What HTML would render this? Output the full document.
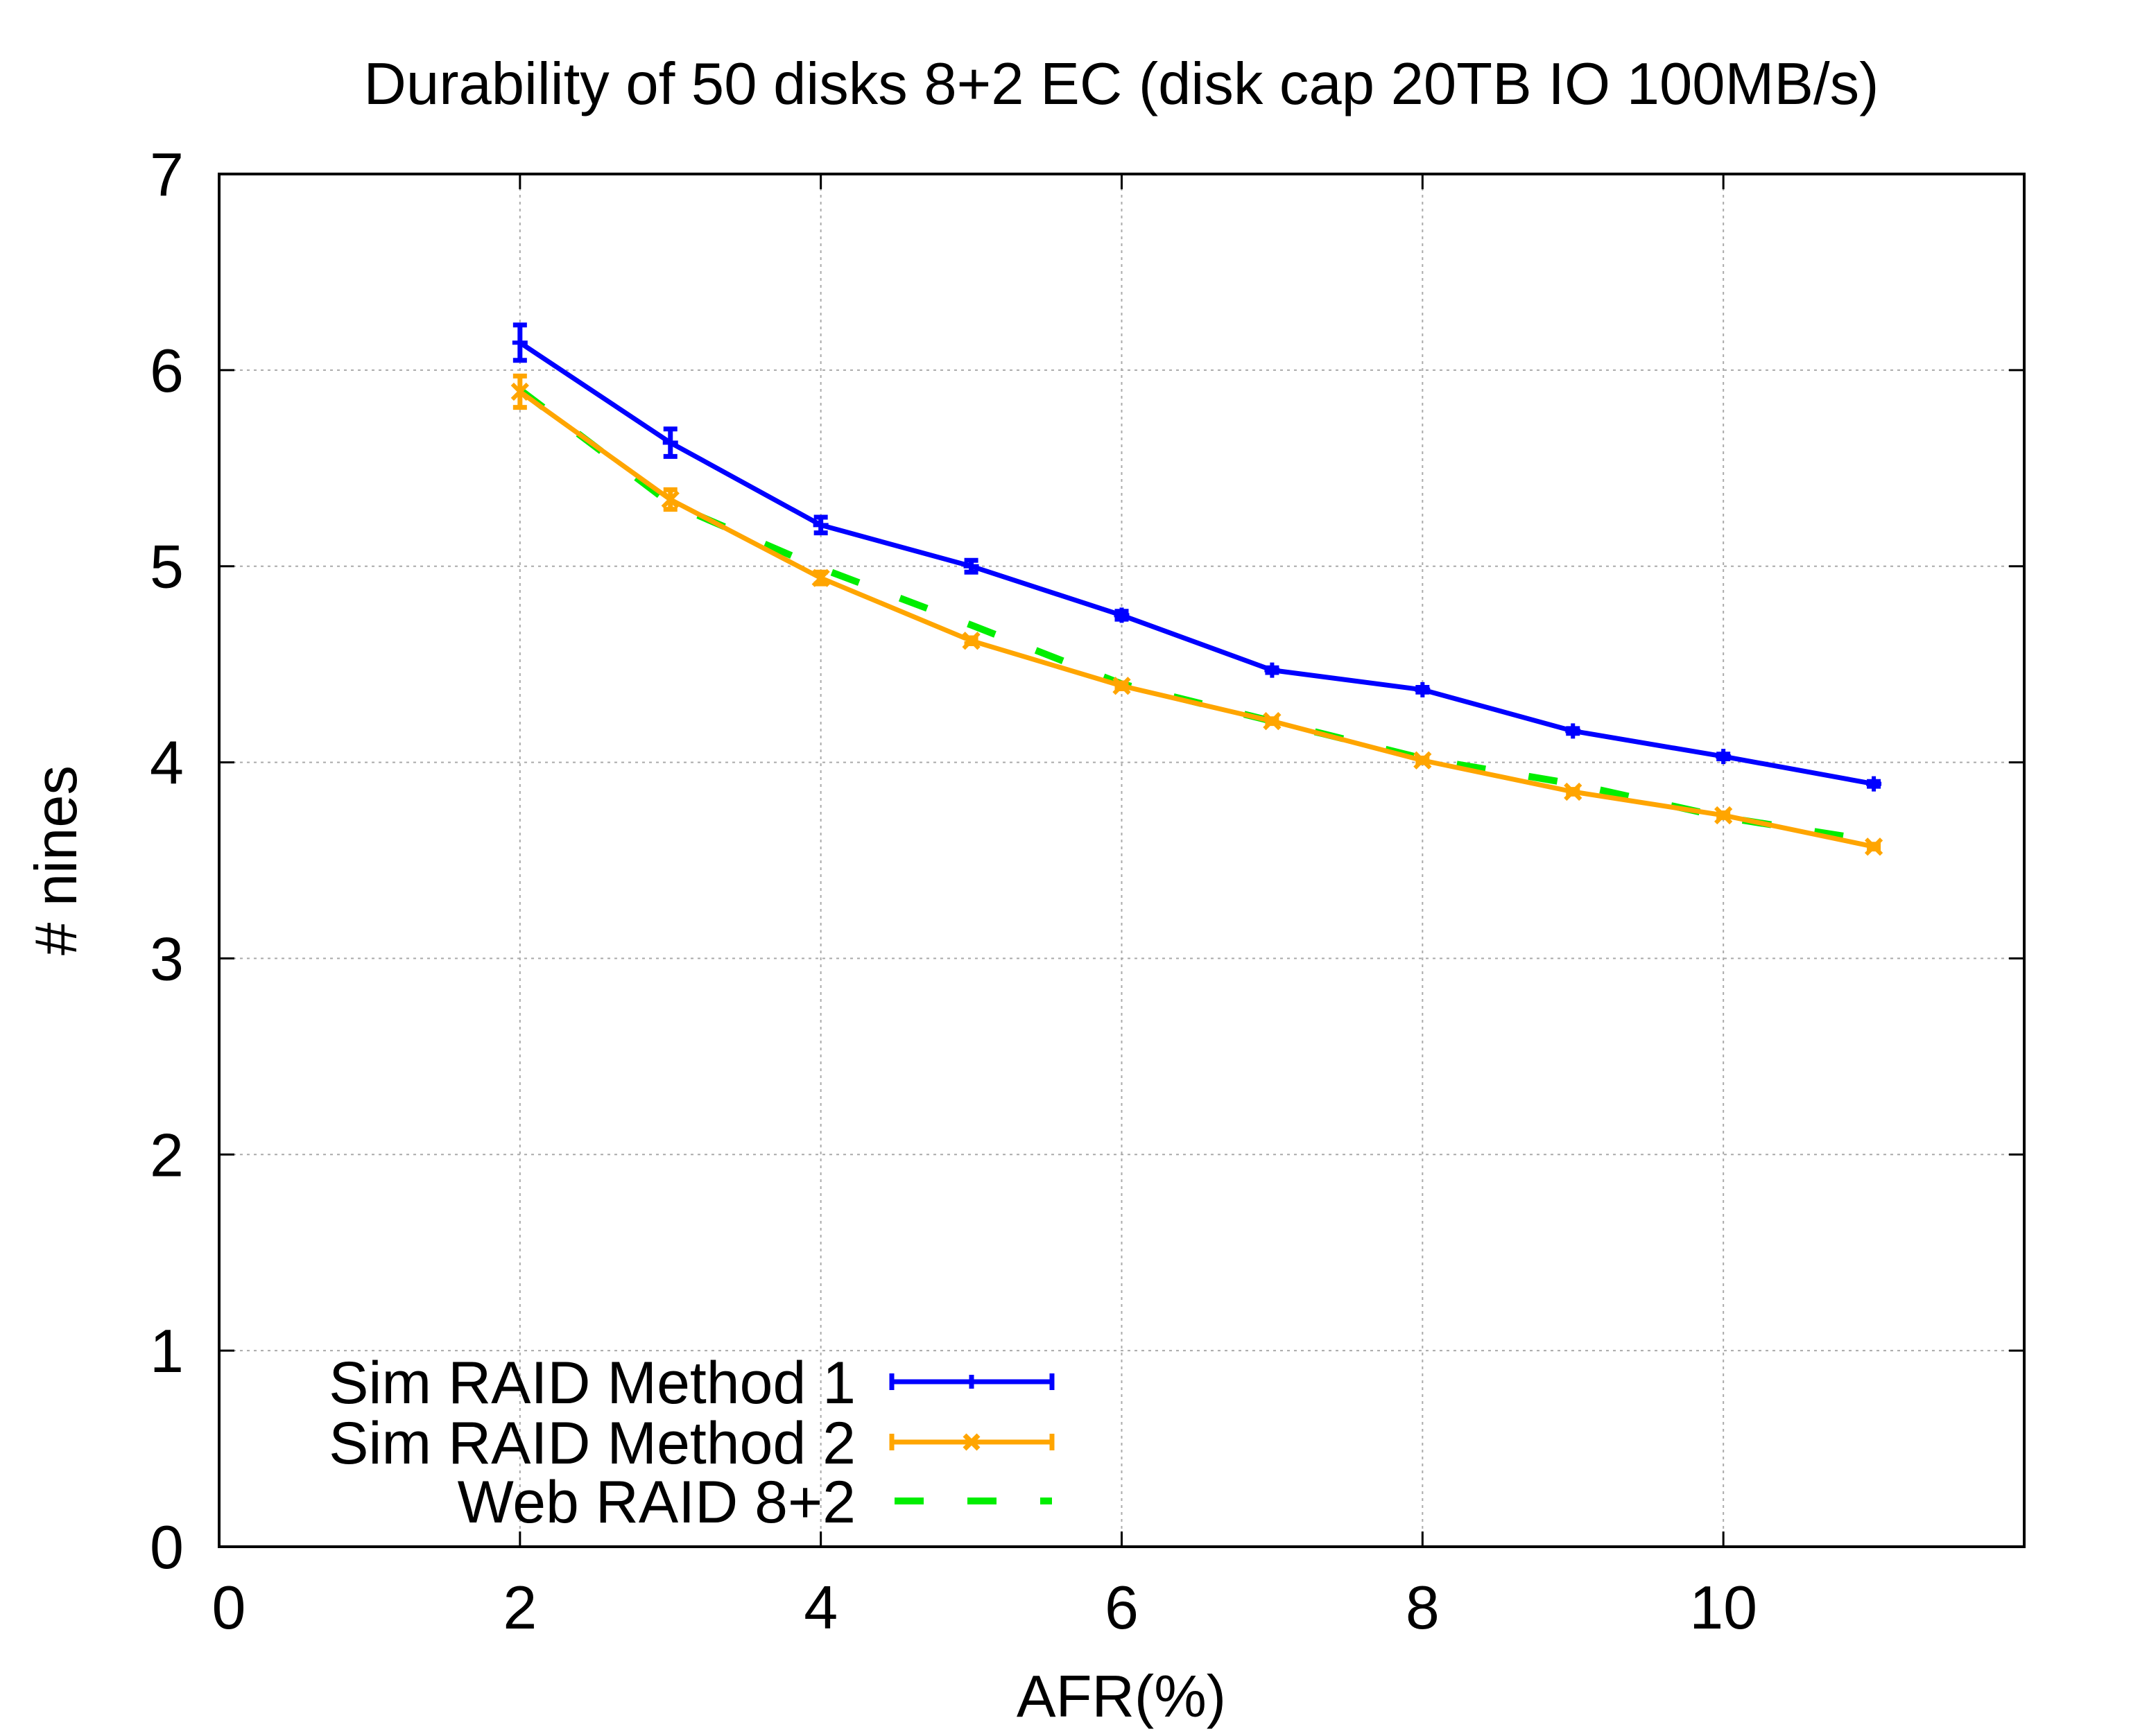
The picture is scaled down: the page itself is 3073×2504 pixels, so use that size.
<!DOCTYPE html>
<html><head><meta charset="utf-8"><style>
html,body{margin:0;padding:0;background:#fff}
svg{display:block}
text{font-family:"Liberation Sans",Arial,sans-serif;fill:#000}
</style></head><body>
<svg id="chart" width="3073" height="2504" viewBox="0 0 3073 2504" xmlns="http://www.w3.org/2000/svg">
<rect width="3073" height="2504" fill="#fff"/>
<g id="grid"></g>
<g id="series"></g>
<rect x="316" y="251" width="2603" height="1980" fill="none" stroke="#000" stroke-width="4"/>
<g id="ticks"></g>
<text x="1617" y="150" font-size="85" text-anchor="middle">Durability of 50 disks 8+2 EC (disk cap 20TB IO 100MB/s)</text>
<text x="1617" y="2476" font-size="85" text-anchor="middle">AFR(%)</text>
<text x="0" y="0" font-size="85" text-anchor="middle" transform="translate(110,1241) rotate(-90)"># nines</text>
<g id="legend"></g>
</svg>
<script>
const afr = [2,3,4,5,6,7,8,9,10,11];
const method1 = [6.14,5.63,5.21,5.00,4.75,4.47,4.37,4.16,4.03,3.89];
const method1Err = [0.09,0.07,0.04,0.03,0.02,0.012,0.012,0.012,0.012,0.012];
const method2 = [5.89,5.34,4.94,4.62,4.39,4.21,4.01,3.85,3.73,3.57];
const method2Err = [0.08,0.05,0.03,0.015,0.015,0.012,0.012,0.012,0.012,0.012];
const web = [5.90,5.32,4.99,4.70,4.40,4.21,4.02,3.89,3.72,3.60];
const xTicks = [0,2,4,6,8,10];
const yTicks = [0,1,2,3,4,5,6,7];
const legendLabels = ["Sim RAID Method 1","Sim RAID Method 2","Web RAID 8+2"];

const NS="http://www.w3.org/2000/svg";
const L=316,R=2919,T=251,B=2231,XMAX=12,YMAX=7;
function sx(v){return L+(R-L)*v/XMAX;}
function sy(v){return B-(B-T)*v/YMAX;}
function mk(tag,attrs,parent){const e=document.createElementNS(NS,tag);for(const k in attrs)e.setAttribute(k,attrs[k]);parent.appendChild(e);return e;}
const grid=document.getElementById('grid'),ticks=document.getElementById('ticks'),series=document.getElementById('series'),legend=document.getElementById('legend');

xTicks.forEach(t=>{
  const x=sx(t);
  if(t>0){const g=mk('line',{x1:x,x2:x,y1:T,y2:B,stroke:'#aaa','stroke-width':2,'stroke-dasharray':'4 6'},grid);
  
  }
  const a=mk('line',{x1:x,x2:x,y1:B,y2:B-22,stroke:'#000','stroke-width':3},ticks);
  
  
  const b=mk('line',{x1:x,x2:x,y1:T,y2:T+22,stroke:'#000','stroke-width':3},ticks);
  
  
  const tx=mk('text',{x:x+(t===0?14:0),y:2349,'font-size':88,'text-anchor':'middle'},ticks);
  tx.textContent=t;
  
  
});
yTicks.forEach(t=>{
  const y=sy(t);
  if(t>0&&t<7){const g=mk('line',{x1:L,x2:R,y1:y,y2:y,stroke:'#aaa','stroke-width':2,'stroke-dasharray':'4 6'},grid);
  
  }
  const a=mk('line',{x1:L,x2:L+22,y1:y,y2:y,stroke:'#000','stroke-width':3},ticks);
  
  
  const b=mk('line',{x1:R,x2:R-22,y1:y,y2:y,stroke:'#000','stroke-width':3},ticks);
  
  
  const tx=mk('text',{x:265,y:y+31,'font-size':88,'text-anchor':'end'},ticks);
  tx.textContent=t;
  
  
});

function pts(vals){return afr.map((a,i)=>sx(a)+','+sy(vals[i])).join(' ');}
function errbars(vals,errs,color,name){
  afr.forEach((a,i)=>{
    const x=sx(a),y1=sy(vals[i]-errs[i]),y2=sy(vals[i]+errs[i]);
    const g=mk('path',{d:`M${x},${y1}V${y2}M${x-10},${y1}H${x+10}M${x-10},${y2}H${x+10}`,stroke:color,'stroke-width':7,fill:'none'},series);
    
    
  });
}
const webLine=mk('polyline',{points:pts(web),fill:'none',stroke:'#00ee00','stroke-width':10,'stroke-dasharray':'42 63'},series);


const m2=mk('polyline',{points:pts(method2),fill:'none',stroke:'#ffa500','stroke-width':7,'stroke-linejoin':'round'},series);


errbars(method2,method2Err,'#ffa500','method2');
afr.forEach((a,i)=>{const x=sx(a),y=sy(method2[i]);
  const p=mk('path',{d:`M${x-11},${y-11}L${x+11},${y+11}M${x-11},${y+11}L${x+11},${y-11}`,stroke:'#ffa500','stroke-width':6},series);
  
  });
const m1=mk('polyline',{points:pts(method1),fill:'none',stroke:'#0000ff','stroke-width':7,'stroke-linejoin':'round'},series);


errbars(method1,method1Err,'#0000ff','method1');
afr.forEach((a,i)=>{const x=sx(a),y=sy(method1[i]);
  const p=mk('path',{d:`M${x-11},${y}H${x+11}M${x},${y-11}V${y+11}`,stroke:'#0000ff','stroke-width':6},series);
  
  });

const rows=[1993,2080,2165],colors=['#0000ff','#ffa500','#00ee00'];
legendLabels.forEach((lab,i)=>{
  const y=rows[i];
  const t=mk('text',{x:1234,y:y+31,'font-size':86,'text-anchor':'end'},legend);
  t.textContent=lab;
  
  
  let s;
  if(i===2){s=mk('line',{x1:1290,x2:1517,y1:y,y2:y,stroke:colors[i],'stroke-width':10,'stroke-dasharray':'42 63'},legend);}
  else{
    const mark=i===0?`M1401,${y-10}V${y+10}`:`M1391,${y-10}L1411,${y+10}M1391,${y+10}L1411,${y-10}`;
    s=mk('path',{d:`M1286,${y}H1517M1286,${y-12}V${y+12}M1517,${y-12}V${y+12}${mark}`,stroke:colors[i],'stroke-width':7,fill:'none'},legend);
  }
  
  
});
</script>
</body></html>
